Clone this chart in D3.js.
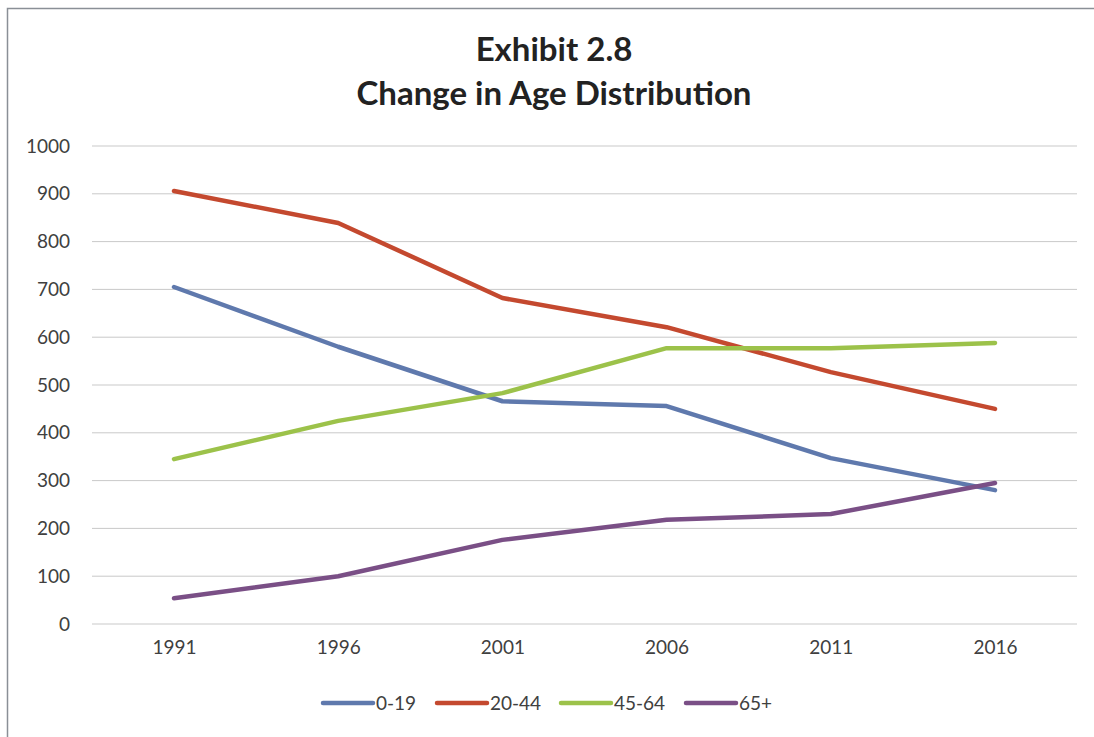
<!DOCTYPE html>
<html>
<head>
<meta charset="utf-8">
<script src="https://cdn.jsdelivr.net/npm/d3@7"></script>
<style>
body { margin: 0; background: #fff; }
text { font-family: Lato, "Open Sans", sans-serif; }
</style>
</head>
<body>
<script>
var width = 1094;
var height = 737;

var years = ["1991", "1996", "2001", "2006", "2011", "2016"];
var yTicks = [0, 100, 200, 300, 400, 500, 600, 700, 800, 900, 1000];
var seriesNames = ["0-19", "20-44", "45-64", "65+"];
var colors = ["#5f79ad", "#c4492f", "#9cc24a", "#7a4f86"];
var age0to19 = [705, 580, 466, 456, 347, 280];
var age20to44 = [906, 839, 682, 621, 527, 450];
var age45to64 = [345, 425, 483, 577, 577, 588];
var age65plus = [54, 100, 176, 218, 230, 295];
var allSeries = [age0to19, age20to44, age45to64, age65plus];

var svg = d3.select("body").append("svg")
	.attr("width", width)
	.attr("height", height);

// outer frame
svg.append("rect")
	.attr("x", 7.5).attr("y", 8.5)
	.attr("width", 1100).attr("height", 740)
	.attr("fill", "none")
	.attr("stroke", "#8a8f96")
	.attr("stroke-width", 1.5);

var x = d3.scalePoint().domain(years).range([174, 995]);
var y = d3.scaleLinear().domain([0, 1000]).range([624, 146]);

// gridlines
svg.append("g").selectAll("line")
	.data(yTicks)
	.enter().append("line")
	.attr("x1", 92).attr("x2", 1077)
	.attr("y1", function(d) { return y(d); })
	.attr("y2", function(d) { return y(d); })
	.attr("stroke", "#c9c9c9")
	.attr("stroke-width", 1);

// y axis labels
var yAxis = d3.axisLeft(y).tickValues(yTicks).tickFormat(d3.format("d")).tickSize(0).tickPadding(0);
var gy = svg.append("g").attr("transform", "translate(70,0)").call(yAxis);
gy.select(".domain").remove();
gy.selectAll("text")
	.attr("font-size", 19)
	.attr("fill", "#404040");

// x axis labels
var xAxis = d3.axisBottom(x).tickSize(0).tickPadding(0);
var gx = svg.append("g").attr("transform", "translate(0,640)").call(xAxis);
gx.select(".domain").remove();
gx.selectAll("text")
	.attr("font-size", 19)
	.attr("fill", "#404040");

// lines
var line = d3.line()
	.x(function(d, i) { return x(years[i]); })
	.y(function(d) { return y(d); });

svg.append("g").selectAll("path")
	.data(allSeries)
	.enter().append("path")
	.attr("d", line)
	.attr("fill", "none")
	.attr("stroke", function(d, i) { return colors[i]; })
	.attr("stroke-width", 4.5)
	.attr("stroke-linejoin", "round")
	.attr("stroke-linecap", "round");

// title
svg.append("text")
	.attr("x", 554).attr("y", 61)
	.attr("text-anchor", "middle")
	.attr("font-size", 33)
	.attr("font-weight", "bold")
	.attr("fill", "#222")
	.text("Exhibit 2.8");
svg.append("text")
	.attr("x", 554).attr("y", 105)
	.attr("text-anchor", "middle")
	.attr("font-size", 33)
	.attr("font-weight", "bold")
	.attr("fill", "#222")
	.text("Change in Age Distribution");

// legend
var legendX = [323, 437, 561, 686];
var legend = svg.append("g").selectAll("g")
	.data(seriesNames)
	.enter().append("g")
	.attr("transform", function(d, i) { return "translate(" + legendX[i] + ",703)"; });
legend.append("line")
	.attr("x1", 0).attr("x2", 50)
	.attr("stroke", function(d, i) { return colors[i]; })
	.attr("stroke-width", 4.5)
	.attr("stroke-linecap", "round");
legend.append("text")
	.attr("x", 53).attr("y", 7)
	.attr("font-size", 19)
	.attr("fill", "#404040")
	.text(function(d) { return d; });
</script>
</body>
</html>
